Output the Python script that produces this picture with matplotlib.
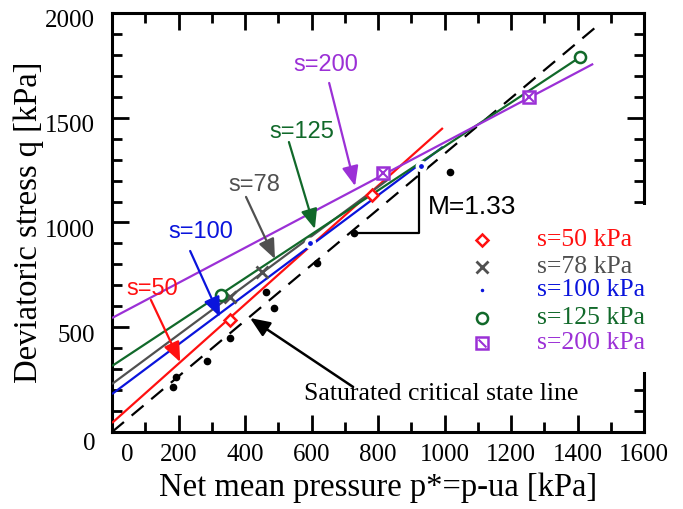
import matplotlib
matplotlib.use("Agg")
import matplotlib.pyplot as plt
import matplotlib.transforms as mtransforms
from matplotlib.patches import Rectangle

# ---------------- data ----------------
suction_labels = ["s=50 kPa", "s=78 kPa", "s=100 kPa", "s=125 kPa", "s=200 kPa"]
colors = ["#ff1010", "#505050", "#0a14dc", "#11692a", "#9b30d6"]

# fitted lines (endpoints, p*, q)
line_p = {"s50": [0, 995], "s78": [0, 830], "s100": [0, 995], "s125": [0, 1408], "s200": [0, 1447]}
line_q = {"s50": [43, 1451], "s78": [229, 1205], "s100": [181, 1361], "s125": [315, 1790], "s200": [544, 1757]}

# measured points
pts_p = {"s50": [355, 782], "s78": [355, 451], "s100": [595, 929], "s125": [328, 1408], "s200": [815, 1254]}
pts_q = {"s50": [535, 1131], "s78": [644, 764], "s100": [902, 1270], "s125": [654, 1790], "s200": [1236, 1599]}

# saturated data
sat_p = [183, 192, 286, 355, 463, 487, 617, 728, 1017]
sat_q = [215, 263, 339, 449, 668, 592, 807, 950, 1241]
csl_p = [0, 1459]
csl_q = [0, 1938]

x_ticks = [0, 200, 400, 600, 800, 1000, 1200, 1400, 1600]
y_ticks = [0, 500, 1000, 1500, 2000]

SERIF = ["Liberation Serif", "DejaVu Serif"]
SANS = ["Liberation Sans", "DejaVu Sans"]

fig = plt.figure(figsize=(6.83, 5.09), dpi=100)
ax = fig.add_axes([0.164, 0.1513, 0.779, 0.8232])
ax.set_xlim(0, 1600)
ax.set_ylim(0, 2000)

keys = ["s50", "s78", "s100", "s125", "s200"]
for k, c in zip(keys, colors):
    ax.plot(line_p[k], line_q[k], color=c, lw=1.6, zorder=3, solid_capstyle="butt")

# saturated CSL
ax.plot(csl_p, csl_q, color="black", lw=1.6, dashes=(7, 4.5), zorder=2)
ax.plot(sat_p, sat_q, "o", color="black", ms=4.5, zorder=4, clip_on=False)

# markers
ax.plot(pts_p["s50"], pts_q["s50"], "D", ms=6.5, mfc="white", mec=colors[0], mew=1.8, ls="none", zorder=5)
ax.plot(pts_p["s78"], pts_q["s78"], "x", ms=8, mec=colors[1], mew=2, ls="none", zorder=5)
ax.plot(pts_p["s100"], pts_q["s100"], "o", ms=6, mfc=colors[2], mec="white", mew=2.5, ls="none", zorder=5)
ax.plot(pts_p["s125"], pts_q["s125"], "o", ms=8, mfc="white", mec=colors[3], mew=1.8, ls="none", zorder=5)
ax.plot(pts_p["s200"], pts_q["s200"], "s", ms=8, mfc="white", mec=colors[4], mew=1.8, ls="none", zorder=5)
ax.plot(pts_p["s200"], pts_q["s200"], "x", ms=7, mec=colors[4], mew=1.5, ls="none", zorder=6)

# legend (manual, white box that hides the right spine)
ax.add_patch(Rectangle((1077, 286), 560, 798, facecolor="white", edgecolor="none",
                       zorder=10, clip_on=False))
leg_y = [916, 788, 678, 544, 425]
mk_p = 1113
tx_p = 1278
kw = dict(zorder=11, clip_on=False)
ax.plot([mk_p], [leg_y[0]], "D", ms=6.5, mfc="white", mec=colors[0], mew=1.8, **kw)
ax.plot([mk_p], [leg_y[1]], "x", ms=8, mec=colors[1], mew=2, **kw)
ax.plot([mk_p], [leg_y[2]], ".", ms=3, color=colors[2], **kw)
ax.plot([mk_p], [leg_y[3]], "o", ms=8, mfc="white", mec=colors[3], mew=1.8, **kw)
ax.plot([mk_p], [leg_y[4]], "s", ms=8, mfc="white", mec=colors[4], mew=1.8, **kw)
ax.plot([mk_p], [leg_y[4]], marker=(2, 0, 45), ms=8, mec=colors[4], mew=1.5, **kw)
for lab, c, y in zip(suction_labels, colors, leg_y):
    ax.text(tx_p, y, lab, color=c, fontsize=18.5, family=SERIF, va="center", ha="left", zorder=12)

# arrows and labels
def arrow(tail, tip, c, lw=1.6):
    ax.annotate("", xy=tip, xytext=tail,
                arrowprops=dict(arrowstyle="-|>,head_length=1.2,head_width=0.5",
                                color=c, lw=lw, shrinkA=0, shrinkB=0), zorder=7)

ax.text(120, 683, "s=50", color=colors[0], fontsize=17, family=SANS, ha="center", va="center")
arrow((117, 630), (205, 334), colors[0])
ax.text(268, 955, "s=100", color=colors[2], fontsize=17, family=SANS, ha="center", va="center")
arrow((235, 864), (325, 549), colors[2])
ax.text(427, 1179, "s=78", color=colors[1], fontsize=17, family=SANS, ha="center", va="center")
arrow((403, 1122), (490, 826), colors[1])
ax.text(571, 1432, "s=125", color=colors[3], fontsize=17, family=SANS, ha="center", va="center")
arrow((532, 1384), (610, 969), colors[3])
ax.text(644, 1752, "s=200", color=colors[4], fontsize=17, family=SANS, ha="center", va="center")
arrow((653, 1666), (731, 1174), colors[4])

ax.text(990, 180, "Saturated critical state line", color="black", fontsize=18.5,
        family=SERIF, ha="center", va="center")
arrow((725, 215), (415, 544), "black", lw=1.8)

# slope bracket
ax.plot([728, 923, 923], [950, 950, 1270], color="black", lw=1.6, zorder=4)
ax.text(950, 1074, "M=1.33", color="black", fontsize=19, family=SANS, ha="left", va="center",
        zorder=13)

# axes style
for sp in ax.spines.values():
    sp.set_linewidth(2.2)
ax.set_xticks(x_ticks)
ax.set_xticklabels([str(v) for v in x_ticks])
ax.set_yticks(y_ticks)
ax.set_yticklabels([str(v) for v in y_ticks])
ax.set_xticks(range(100, 1600, 200), minor=True)
ax.set_yticks(range(100, 2000, 100), minor=True)
ax.tick_params(which="both", direction="in", top=True, right=True, width=2)
ax.tick_params(which="major", length=12)
ax.tick_params(which="minor", length=7)
ax.tick_params(axis="x", which="major", pad=9)
ax.tick_params(axis="y", which="major", pad=12)
for lab in ax.get_xticklabels() + ax.get_yticklabels():
    lab.set_fontfamily(SERIF)
    lab.set_fontsize(18)

# label offsets as in the reference
ylabs = ax.get_yticklabels()
for i, lab in enumerate(ylabs):
    dy = -10 if i == 0 else -6
    lab.set_transform(lab.get_transform() + mtransforms.ScaledTranslation(0, dy / 100, fig.dpi_scale_trans))
xlabs = ax.get_xticklabels()
xlabs[0].set_transform(xlabs[0].get_transform() + mtransforms.ScaledTranslation(15 / 100, 0, fig.dpi_scale_trans))

ax.set_xlabel("Net mean pressure p*=p-ua [kPa]", fontsize=23.5, family=SERIF, labelpad=4)
ax.set_ylabel("Deviatoric stress q [kPa]", fontsize=23.5, family=SERIF, labelpad=1)

fig.savefig("out.png", dpi=100)
